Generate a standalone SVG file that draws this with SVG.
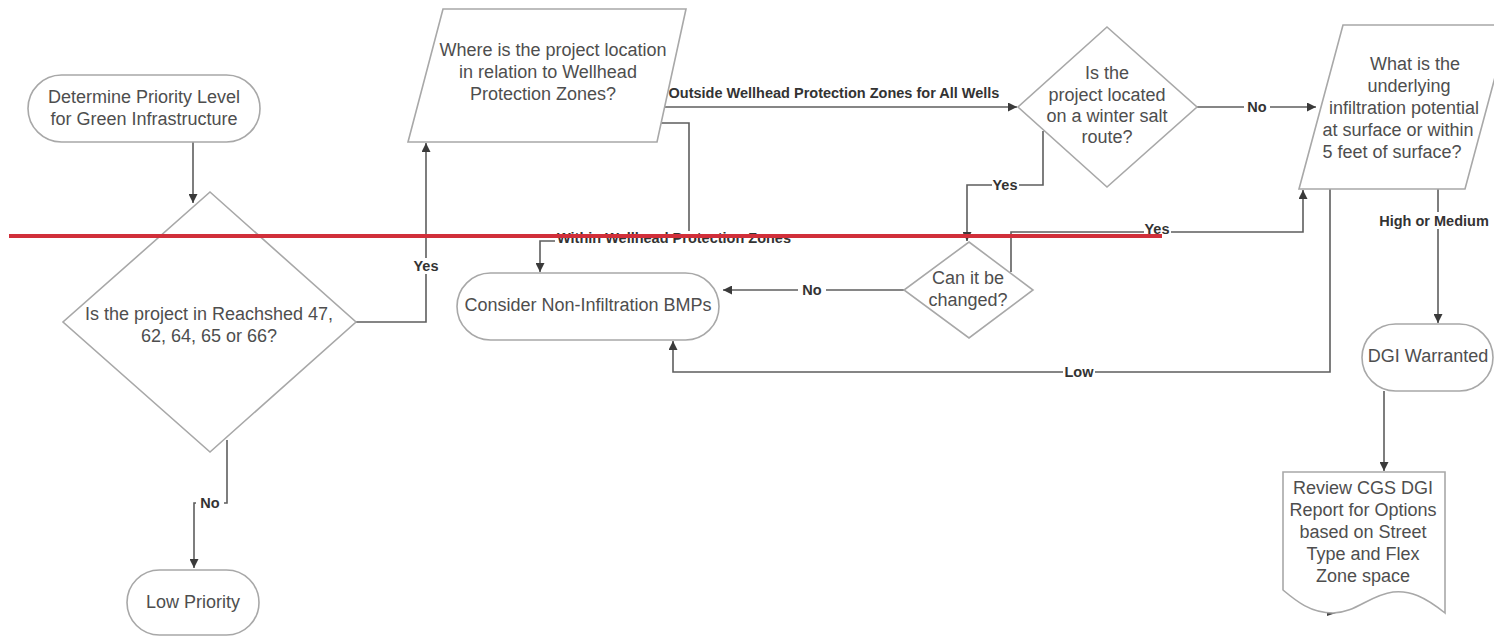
<svg xmlns="http://www.w3.org/2000/svg" width="1494" height="637" viewBox="0 0 1494 637">
<style>
.shape{fill:#fff;stroke:#a8a8a8;stroke-width:1.6}
.txt{font-family:"Liberation Sans",Arial,sans-serif;font-size:18px;fill:#4e4e4e;text-anchor:middle}
.con{fill:none;stroke:#5e5e5e;stroke-width:1.6}
.lbl{font-family:"Liberation Sans",Arial,sans-serif;font-size:14.5px;font-weight:bold;fill:#333;text-anchor:middle}
.lbg{fill:#fff}
</style>
<defs>
<marker id="ah" viewBox="0 0 10 10" refX="10" refY="5" markerUnits="userSpaceOnUse" markerWidth="10" markerHeight="9" orient="auto">
<path d="M0,0 L10,5 L0,10 z" fill="#3a3a3a"/>
</marker>
</defs>
<rect width="1494" height="637" fill="#fff"/>

<g id="connectors">
<path class="con" d="M193,142 V203" marker-end="url(#ah)"/>
<path class="con" d="M227,440 V503 H194 V568" marker-end="url(#ah)"/>
<path class="con" d="M356,322 H426 V143" marker-end="url(#ah)"/>
<path class="con" d="M662,107 H1017" marker-end="url(#ah)"/>
<path class="con" d="M657,123 H689 V241 H540 V272" marker-end="url(#ah)"/>
<path class="con" d="M1197,107 H1316" marker-end="url(#ah)"/>
<path class="con" d="M1043,131 V185 H967 V241" marker-end="url(#ah)"/>
<path class="con" d="M904,290 H723" marker-end="url(#ah)"/>
<path class="con" d="M1011,272 V232 H1303 V190" marker-end="url(#ah)"/>
<path class="con" d="M1330,189 V372 H673 V341" marker-end="url(#ah)"/>
<path class="con" d="M1438,189 V323" marker-end="url(#ah)"/>
<path class="con" d="M1384,391 V471" marker-end="url(#ah)"/>
<polygon points="1327,608 1339,612 1327,616" fill="#444"/>
<rect class="lbg" x="196" y="495" width="28" height="16"/><text class="lbl" x="210" y="508">No</text>
<rect class="lbg" x="413" y="258" width="27" height="16"/><text class="lbl" x="426" y="271">Yes</text>
<text class="lbl" x="834" y="98">Outside Wellhead Protection Zones for All Wells</text>
<rect class="lbg" x="555" y="231" width="238" height="16"/><text class="lbl" x="674" y="243">Within Wellhead Protection Zones</text>
<rect class="lbg" x="992" y="177" width="27" height="16"/><text class="lbl" x="1005" y="190">Yes</text>
<rect class="lbg" x="1244" y="99" width="26" height="16"/><text class="lbl" x="1257" y="112">No</text>
<rect class="lbg" x="1144" y="222" width="27" height="16"/><text class="lbl" x="1157" y="234">Yes</text>
<rect class="lbg" x="798" y="282" width="28" height="16"/><text class="lbl" x="812" y="295">No</text>
<rect class="lbg" x="1063" y="364" width="32" height="16"/><text class="lbl" x="1079" y="377">Low</text>
<rect class="lbg" x="1378" y="212" width="113" height="17"/><text class="lbl" x="1434" y="226">High or Medium</text>
</g>

<g id="start">
<rect class="shape" x="28" y="75" width="232" height="67" rx="33.5"/>
<text class="txt" x="144" y="103">Determine Priority Level</text>
<text class="txt" x="144" y="125">for Green Infrastructure</text>
</g>

<g id="reachshed">
<polygon class="shape" points="210,192 356,322 210,452 63,322"/>
<text class="txt" x="209" y="320">Is the project in Reachshed 47,</text>
<text class="txt" x="209" y="342">62, 64, 65 or 66?</text>
</g>

<g id="low-priority">
<rect class="shape" x="127" y="570" width="132" height="65" rx="32.5"/>
<text class="txt" x="193" y="608">Low Priority</text>
</g>

<g id="wellhead">
<polygon class="shape" points="443,9 686,9 657,142 408,142"/>
<text class="txt" x="553" y="56">Where is the project location</text>
<text class="txt" x="548" y="78">in relation to Wellhead</text>
<text class="txt" x="543" y="100">Protection Zones?</text>
</g>

<g id="non-infiltration">
<rect class="shape" x="457" y="273" width="262" height="67" rx="33.5"/>
<text class="txt" x="588" y="311">Consider Non-Infiltration BMPs</text>
</g>

<g id="salt-route">
<polygon class="shape" points="1107,27 1197,107 1107,187 1018,107"/>
<text class="txt" x="1107" y="79">Is the</text>
<text class="txt" x="1107" y="101">project located</text>
<text class="txt" x="1107" y="122">on a winter salt</text>
<text class="txt" x="1107" y="143">route?</text>
</g>

<g id="changed">
<polygon class="shape" points="969,242 1033,290 969,338 904,290"/>
<text class="txt" x="968" y="284">Can it be</text>
<text class="txt" x="968" y="306">changed?</text>
</g>

<g id="infiltration">
<polygon class="shape" points="1343,25 1509,25 1465,189 1299,189"/>
<text class="txt" x="1415" y="70">What is the</text>
<text class="txt" x="1409" y="92">underlying</text>
<text class="txt" x="1404" y="114">infiltration potential</text>
<text class="txt" x="1398" y="136">at surface or within</text>
<text class="txt" x="1392" y="158">5 feet of surface?</text>
</g>

<g id="dgi">
<rect class="shape" x="1362" y="324" width="131" height="67" rx="33.5"/>
<text class="txt" x="1428" y="362">DGI Warranted</text>
</g>

<g id="review">
<path class="shape" d="M1283,472 H1445 V613 C1425,597 1410,590 1393,592 C1370,595 1355,613 1333,613 C1310,613 1295,600 1283,590 Z"/>
<text class="txt" x="1363" y="494">Review CGS DGI</text>
<text class="txt" x="1363" y="516">Report for Options</text>
<text class="txt" x="1363" y="538">based on Street</text>
<text class="txt" x="1363" y="560">Type and Flex</text>
<text class="txt" x="1363" y="582">Zone space</text>
</g>

<line x1="9" y1="236" x2="1162" y2="236" stroke="#d12f3a" stroke-width="4"/>
</svg>
